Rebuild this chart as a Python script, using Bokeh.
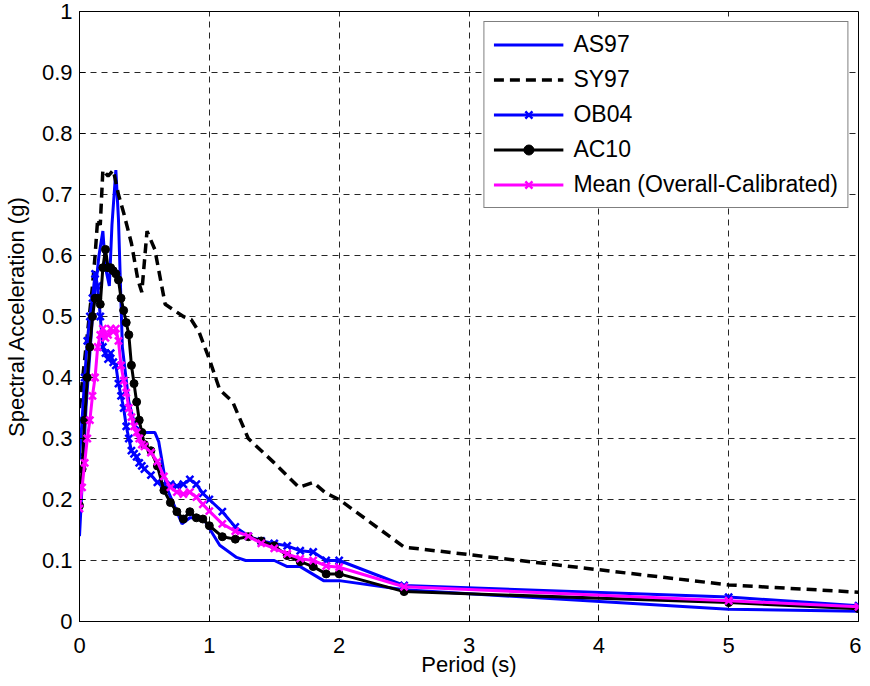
from bokeh.plotting import figure
from bokeh.models import (Range1d, FixedTicker, CustomJSTickFormatter, Legend, LegendItem)
from bokeh.embed import file_html
from bokeh.resources import INLINE

# ---------------- data ----------------
# shared period grid for the marker series
periods = [0, 0.02, 0.04, 0.06, 0.08, 0.1, 0.12, 0.14, 0.16, 0.18, 0.2, 0.22, 0.24,
           0.26, 0.28, 0.3, 0.32, 0.34, 0.36, 0.38, 0.4, 0.42, 0.44, 0.46, 0.48, 0.5,
           0.55, 0.6, 0.65, 0.7, 0.75, 0.8, 0.85, 0.9, 0.95, 1.0, 1.1, 1.2, 1.3, 1.4,
           1.5, 1.6, 1.7, 1.8, 1.9, 2.0, 2.5, 5.0, 6.0]

ob04 = [0.27, 0.33, 0.40, 0.46, 0.50, 0.53, 0.57, 0.55, 0.50, 0.45, 0.44, 0.43, 0.44,
        0.425, 0.42, 0.39, 0.37, 0.35, 0.32, 0.30, 0.28, 0.275, 0.27, 0.26, 0.255, 0.25,
        0.24, 0.228, 0.225, 0.225, 0.222, 0.225, 0.233, 0.225, 0.21, 0.20, 0.18, 0.155,
        0.14, 0.132, 0.128, 0.124, 0.116, 0.114, 0.10, 0.10, 0.059, 0.04, 0.026]

ac10 = [0.19, 0.25, 0.33, 0.40, 0.45, 0.50, 0.53, 0.53, 0.52, 0.58, 0.61, 0.58, 0.58,
        0.575, 0.57, 0.56, 0.53, 0.51, 0.49, 0.47, 0.42, 0.39, 0.36, 0.33, 0.31, 0.29,
        0.28, 0.255, 0.215, 0.195, 0.18, 0.168, 0.18, 0.17, 0.168, 0.157, 0.139, 0.135,
        0.139, 0.132, 0.124, 0.108, 0.098, 0.09, 0.078, 0.078, 0.049, 0.031, 0.021]

mean_cal = [0.185, 0.22, 0.26, 0.30, 0.33, 0.37, 0.40, 0.45, 0.47, 0.48, 0.465, 0.47, 0.48,
            0.475, 0.48, 0.46, 0.42, 0.395, 0.375, 0.35, 0.335, 0.32, 0.31, 0.30, 0.29, 0.287,
            0.277, 0.262, 0.238, 0.22, 0.212, 0.209, 0.212, 0.204, 0.192, 0.181, 0.16, 0.148,
            0.14, 0.128, 0.12, 0.111, 0.103, 0.10, 0.091, 0.089, 0.057, 0.034, 0.024]

as97_periods = [0, 0.05, 0.1, 0.15, 0.18, 0.2, 0.23, 0.25, 0.28, 0.3, 0.33, 0.38, 0.43,
                0.49, 0.58, 0.61, 0.67, 0.79, 0.85, 0.95, 1.08, 1.21, 1.28, 1.5, 1.6, 1.7,
                1.88, 2.0, 2.5, 5.0, 6.0]
as97 = [0.14, 0.35, 0.50, 0.60, 0.64, 0.58, 0.55, 0.65, 0.74, 0.66, 0.45, 0.36, 0.32,
        0.31, 0.31, 0.295, 0.22, 0.16, 0.17, 0.17, 0.125, 0.105, 0.10, 0.10, 0.09, 0.09,
        0.067, 0.067, 0.052, 0.02, 0.017]

sy97_periods = [0, 0.05, 0.1, 0.12, 0.14, 0.16, 0.18, 0.22, 0.26, 0.3, 0.34, 0.4, 0.45,
                0.48, 0.52, 0.58, 0.66, 0.8, 0.86, 0.92, 1.0, 1.08, 1.18, 1.3, 1.5, 1.69,
                1.8, 1.9, 2.0, 2.5, 5.0, 6.0]
sy97 = [0.35, 0.45, 0.55, 0.60, 0.66, 0.65, 0.74, 0.73, 0.74, 0.70, 0.67, 0.62, 0.56,
        0.54, 0.64, 0.61, 0.52, 0.50, 0.495, 0.475, 0.43, 0.38, 0.36, 0.30, 0.26, 0.22,
        0.228, 0.21, 0.20, 0.122, 0.06, 0.048]

x_ticks = [0, 1, 2, 3, 4, 5, 6]
y_ticks = [0, 0.1, 0.2, 0.3, 0.4, 0.5, 0.6, 0.7, 0.8, 0.9, 1.0]

# ---------------- figure ----------------
FONT = "Liberation Sans"
p = figure(frame_width=779, frame_height=610, output_backend="svg", toolbar_location=None,
           x_range=Range1d(0, 6), y_range=Range1d(0, 1),
           min_border_left=79, min_border_right=3, min_border_top=11, min_border_bottom=58)
p.background_fill_color = "white"
p.border_fill_color = "white"
p.outline_line_color = "black"
p.outline_line_width = 1

fmt = CustomJSTickFormatter(code="return (Math.round(tick*10)/10).toString();")
for ax, ticks in ((p.xaxis[0], x_ticks), (p.yaxis[0], y_ticks)):
    ax.ticker = FixedTicker(ticks=ticks)
    ax.formatter = fmt
    ax.major_tick_in = 6
    ax.major_tick_out = 0
    ax.minor_tick_line_color = None
    ax.axis_line_color = "black"
    ax.major_tick_line_color = "black"
    ax.major_label_text_font = FONT
    ax.major_label_text_font_size = "22px"
    ax.major_label_text_color = "black"
    ax.axis_label_text_font = FONT
    ax.axis_label_text_font_size = "22px"
    ax.axis_label_text_font_style = "normal"
    ax.axis_label_text_color = "black"

p.xaxis.axis_label = "Period (s)"
p.yaxis.axis_label = "Spectral Acceleration (g)"
p.xaxis.major_label_standoff = 16
p.yaxis.major_label_standoff = 7
p.xaxis.axis_label_standoff = -4
p.yaxis.axis_label_standoff = 10

for g in (p.xgrid[0], p.ygrid[0]):
    g.grid_line_color = "black"
    g.grid_line_alpha = 0.85
    g.grid_line_dash = "6 5"
    g.grid_line_width = 1
p.xgrid[0].ticker = FixedTicker(ticks=x_ticks)
p.ygrid[0].ticker = FixedTicker(ticks=y_ticks)

BLUE = "#0000FF"
MAG = "#FF00FF"

r_as = p.line(as97_periods, as97, line_color=BLUE, line_width=3)
r_sy = p.line(sy97_periods, sy97, line_color="black", line_width=3.5, line_dash="10 6")
r_ob = p.line(periods, ob04, line_color=BLUE, line_width=3)
s_ob = p.scatter(periods, ob04, marker="x", size=10, line_color=BLUE, line_width=2.5)
r_ac = p.line(periods, ac10, line_color="black", line_width=3)
s_ac = p.scatter(periods, ac10, marker="circle", size=8, fill_color="black", line_color="black")
r_mn = p.line(periods, mean_cal, line_color=MAG, line_width=3)
s_mn = p.scatter(periods, mean_cal, marker="x", size=10, line_color=MAG, line_width=2.5)

legend = Legend(items=[
    LegendItem(label="AS97", renderers=[r_as]),
    LegendItem(label="SY97", renderers=[r_sy]),
    LegendItem(label="OB04", renderers=[r_ob, s_ob]),
    LegendItem(label="AC10", renderers=[r_ac, s_ac]),
    LegendItem(label="Mean (Overall-Calibrated)", renderers=[r_mn, s_mn]),
], location="top_right")
legend.label_text_font = FONT
legend.label_text_font_size = "23px"
legend.label_text_color = "black"
legend.glyph_width = 70
legend.glyph_height = 25
legend.label_height = 25
legend.label_standoff = 10
legend.spacing = 8
legend.padding = 9
legend.margin = 10
legend.border_line_color = "black"
legend.border_line_width = 1
legend.background_fill_color = "white"
legend.background_fill_alpha = 1
p.add_layout(legend)

open("out.html", "w").write(file_html(p, INLINE))
